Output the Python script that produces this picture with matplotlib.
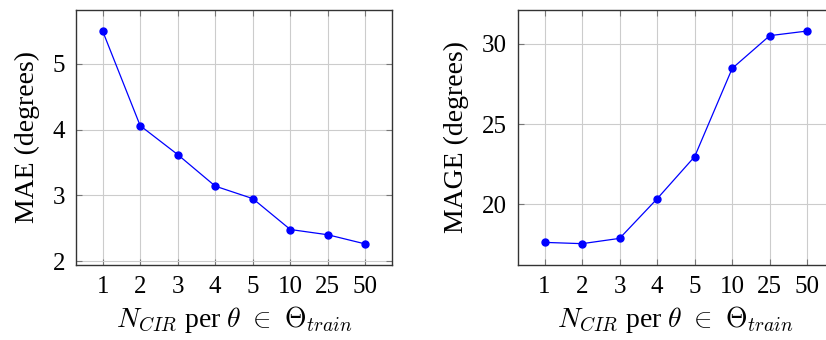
import matplotlib
matplotlib.use("Agg")
import matplotlib.pyplot as plt
import numpy as np

plt.rcParams['font.family'] = ['Liberation Serif', 'DejaVu Serif']
plt.rcParams['mathtext.fontset'] = 'cm'
plt.rcParams['font.size'] = 18

# data
n_cir = ['1', '2', '3', '4', '5', '10', '25', '50']
mae = [5.50, 4.06, 3.62, 3.14, 2.95, 2.48, 2.40, 2.26]
mage = [17.63, 17.55, 17.88, 20.35, 22.98, 28.48, 30.52, 30.81]

xlab = r'$N_{CIR}$ per $\theta\ \in\ \Theta_{train}$'

fig = plt.figure(figsize=(8.26, 3.40), dpi=100)
ax1 = fig.add_axes([0.092, 0.2206, 0.3826, 0.75])
ax2 = fig.add_axes([0.627, 0.2206, 0.3826, 0.75])

x = np.arange(len(n_cir))

def style(ax):
    ax.grid(True, color='#cccccc', linewidth=0.8)
    ax.set_axisbelow(True)
    ax.tick_params(direction='in', length=4, width=0.8, color='#777777',
                   top=True, right=True, pad=8)
    for s in ax.spines.values():
        s.set_linewidth(1.0)
        s.set_color('#333333')
    ax.set_xticks(x)
    ax.set_xticklabels(n_cir)
    ax.set_xlim(-0.71, 7.71)
    ax.set_xlabel(xlab, fontsize=20, labelpad=4)

ax1.plot(x, mae, color='blue', lw=0.9, marker='o', ms=5)
style(ax1)
ax1.set_ylim(1.94, 5.82)
ax1.set_yticks([2, 3, 4, 5])
ax1.set_ylabel('MAE (degrees)', fontsize=20, labelpad=9)

ax2.plot(x, mage, color='blue', lw=0.9, marker='o', ms=5)
style(ax2)
ax2.set_ylim(16.22, 32.12)
ax2.set_yticks([20, 25, 30])
ax2.set_ylabel('MAGE (degrees)', fontsize=20, labelpad=9)

fig.savefig('out.png', dpi=100)
